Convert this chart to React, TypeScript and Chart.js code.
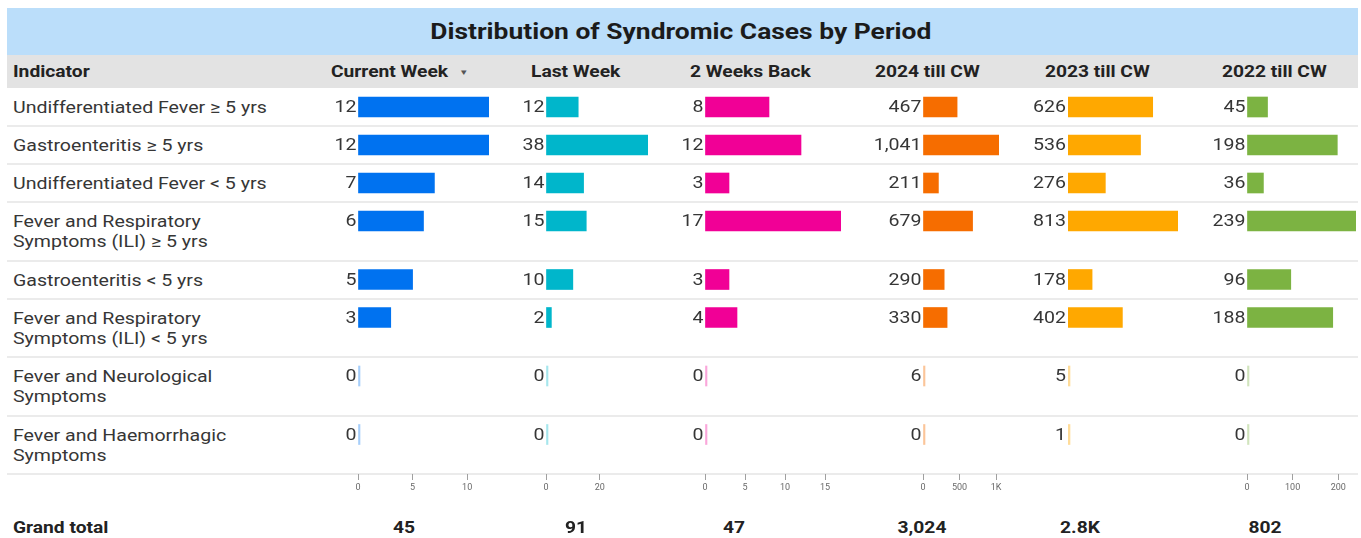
import React, { useEffect, useRef } from 'react';
import { Chart, registerables } from 'chart.js';

Chart.register(...registerables);

// ---------- data ----------
const title = 'Distribution of Syndromic Cases by Period';
const indicatorHeader = 'Indicator';
const indicators: string[][] = [
  ['Undifferentiated Fever ≥ 5 yrs'],
  ['Gastroenteritis ≥ 5 yrs'],
  ['Undifferentiated Fever < 5 yrs'],
  ['Fever and Respiratory', 'Symptoms (ILI) ≥ 5 yrs'],
  ['Gastroenteritis < 5 yrs'],
  ['Fever and Respiratory', 'Symptoms (ILI) < 5 yrs'],
  ['Fever and Neurological', 'Symptoms'],
  ['Fever and Haemorrhagic', 'Symptoms'],
];
const periods = ['Current Week', 'Last Week', '2 Weeks Back', '2024 till CW', '2023 till CW', '2022 till CW'];
const currentWeek = [12, 12, 7, 6, 5, 3, 0, 0];
const lastWeek = [12, 38, 14, 15, 10, 2, 0, 0];
const twoWeeksBack = [8, 12, 3, 17, 3, 4, 0, 0];
const till2024 = [467, 1041, 211, 679, 290, 330, 6, 0];
const till2023 = [626, 536, 276, 813, 178, 402, 5, 1];
const till2022 = [45, 198, 36, 239, 96, 188, 0, 0];
const ticksCurrentWeek = [0, 5, 10];
const ticksLastWeek = [0, 20];
const ticksTwoWeeksBack = [0, 5, 10, 15];
const ticks2024 = [0, 500, 1000];
const ticks2023: number[] = [];
const ticks2022 = [0, 100, 200];
const grandTotalLabel = 'Grand total';

// ---------- styling / layout ----------
const FONT = 'Roboto, "Noto Sans", sans-serif';
const TEXT = '#363636';
const STRETCH = 1.2;
const colors = ['#0072f0', '#00b6cb', '#f10096', '#f66d00', '#ffa800', '#7cb342'];
const lightColors = ['rgba(0,114,240,0.35)', 'rgba(0,182,203,0.35)', 'rgba(241,0,150,0.35)', 'rgba(246,109,0,0.4)', 'rgba(255,168,0,0.4)', 'rgba(124,179,66,0.35)'];
const seriesList = [currentWeek, lastWeek, twoWeeksBack, till2024, till2023, till2022];
const tickList = [ticksCurrentWeek, ticksLastWeek, ticksTwoWeeksBack, ticks2024, ticks2023, ticks2022];
const zeroX = [358, 546, 705, 923, 1068, 1247];
const barWidths = [131, 102, 136, 76, 110, 109];
const headerX = [331, 531, 690, 875, 1045, 1222];
const totalX = [404, 576, 734, 922, 1080, 1265];
const totalStyle = ['comma', 'comma', 'comma', 'comma', 'compact', 'comma'];

const LEFT = 7;
const WIDTH = 1351;
const ROWS_TOP = 88;
const rowHeights = indicators.map((l) => (l.length === 1 ? 38 : 58.5));
const rowTops: number[] = [];
rowHeights.reduce((acc, h) => {
  rowTops.push(acc);
  return acc + h;
}, 0);
const rowsHeight = rowHeights.reduce((a, b) => a + b, 0);
const barCenters = rowTops.map((t) => t + 19);
const AXIS_H = 28;
const PAD_L = 56;
const PAD_R = 12;

const fmtComma = (v: number) => v.toLocaleString('en-US');
const fmtTick = (v: number) => (v >= 1000 ? v / 1000 + 'K' : String(v));
const fmtTotal = (v: number, style: string) =>
  style === 'compact' ? (v >= 1000 ? (v / 1000).toFixed(1) + 'K' : String(v)) : fmtComma(v);

function makeLabelPlugin(values: number[]) {
  return {
    id: 'valueLabels',
    afterDatasetsDraw(chart: any) {
      const { ctx } = chart;
      const meta = chart.getDatasetMeta(0);
      ctx.save();
      ctx.font = `17px ${FONT}`;
      ctx.fillStyle = TEXT;
      ctx.textAlign = 'right';
      ctx.textBaseline = 'middle';
      meta.data.forEach((el: any, i: number) => {
        const p = el.getProps(['base', 'y'], true);
        ctx.save();
        ctx.translate(p.base - 2, p.y + 1);
        ctx.scale(1.15, 1);
        ctx.fillText(fmtComma(values[i]), 0, 0);
        ctx.restore();
      });
      ctx.restore();
    },
  };
}

function BarColumn({ idx }: { idx: number }) {
  const ref = useRef<HTMLCanvasElement>(null);
  const values = seriesList[idx];
  const tickVals = tickList[idx];
  const w = PAD_L + barWidths[idx] + PAD_R;
  const h = rowsHeight + AXIS_H;
  useEffect(() => {
    const hasTicks = tickVals.length > 0;
    const maxVal = Math.max(...values);
    const chart = new Chart(ref.current as HTMLCanvasElement, {
      type: 'bar',
      data: {
        datasets: [
          {
            label: periods[idx],
            data: values.map((v, i) => ({ x: v, y: barCenters[i] })),
            backgroundColor: (c: any) =>
              c.raw && (c.raw.x / maxVal) * barWidths[idx] < 1.5 ? lightColors[idx] : colors[idx],
            barThickness: 20,
            minBarLength: 2,
            borderWidth: 0,
          },
        ],
      },
      options: {
        indexAxis: 'y',
        responsive: false,
        animation: false,
        devicePixelRatio: 1,
        layout: { padding: { left: PAD_L, right: PAD_R, top: 0, bottom: 0 } },
        plugins: { legend: { display: false }, tooltip: { enabled: false }, title: { display: false } },
        scales: {
          y: {
            type: 'linear',
            min: 0,
            max: rowsHeight,
            reverse: true,
            offset: false,
            grace: 0,
            display: false,
            grid: { offset: false },
          },
          x: {
            type: 'linear',
            position: 'bottom',
            min: 0,
            max: maxVal,
            offset: false,
            border: { display: false },
            grid: {
              display: hasTicks,
              drawOnChartArea: false,
              drawTicks: true,
              tickLength: 6,
              color: '#a0a0a0',
              lineWidth: 1,
            },
            ticks: {
              display: hasTicks,
              autoSkip: false,
              maxRotation: 0,
              padding: 2,
              color: '#6a6a6a',
              font: { size: 9, family: FONT },
              callback: (v: any) => fmtTick(Number(v)),
            },
            afterBuildTicks: (s: any) => {
              if (hasTicks) s.ticks = tickVals.map((v) => ({ value: v }));
            },
            afterFit: (s: any) => {
              s.height = AXIS_H;
            },
          },
        },
      } as any,
      plugins: [makeLabelPlugin(values)],
    });
    return () => chart.destroy();
  }, []);
  return (
    <canvas
      ref={ref}
      width={w}
      height={h}
      style={{ position: 'absolute', left: zeroX[idx] - PAD_L, top: ROWS_TOP, width: w, height: h, display: 'block' }}
    />
  );
}

export default function App() {
  const text: React.CSSProperties = {
    position: 'absolute',
    fontFamily: FONT,
    whiteSpace: 'nowrap',
    transform: `scaleX(${STRETCH})`,
    transformOrigin: 'left center',
  };
  const bold: React.CSSProperties = { fontSize: 16, fontWeight: 700, color: '#222' };
  return (
    <div style={{ position: 'absolute', left: 0, top: 0, width: 1361, height: 538, background: '#fff', overflow: 'hidden' }}>
      <div style={{ position: 'absolute', left: LEFT, top: 8, width: WIDTH, height: 47, background: '#bbdefa' }} />
      <div
        style={{
          ...text,
          left: LEFT,
          width: WIDTH,
          top: 8,
          height: 47,
          lineHeight: '47px',
          textAlign: 'center',
          fontSize: 22,
          fontWeight: 700,
          color: '#1b1b1b',
          transformOrigin: '684px center',
        }}
      >
        {title}
      </div>
      <div style={{ position: 'absolute', left: LEFT, top: 55, width: WIDTH, height: 33, background: '#e3e3e3' }} />
      <div style={{ ...text, ...bold, left: 13, top: 55, lineHeight: '33px' }}>{indicatorHeader}</div>
      {periods.map((p, i) => (
        <div key={p} style={{ ...text, ...bold, left: headerX[i], top: 55, lineHeight: '33px' }}>
          {p}
          {i === 0 ? <span style={{ fontSize: 8, marginLeft: 9, color: '#555', position: 'relative', top: -2 }}>▼</span> : null}
        </div>
      ))}
      {rowTops.map((t, i) => (
        <div
          key={'sep' + i}
          style={{ position: 'absolute', left: LEFT, top: ROWS_TOP + t + rowHeights[i] - 1, width: WIDTH, height: 2, background: '#ebebeb' }}
        />
      ))}
      {indicators.map((lines, i) => (
        <div
          key={'lab' + i}
          style={{
            ...text,
            left: 13,
            top: ROWS_TOP + rowTops[i] + 9,
            lineHeight: '20px',
            fontSize: 17,
            color: TEXT,
            transform: 'scaleX(1.15)',
          }}
        >
          {lines.map((l, j) => (
            <div key={j}>{l}</div>
          ))}
        </div>
      ))}
      {seriesList.map((_, i) => (
        <BarColumn key={'col' + i} idx={i} />
      ))}
      <div style={{ ...text, ...bold, left: 13, top: 517, lineHeight: '22px' }}>{grandTotalLabel}</div>
      {seriesList.map((s, i) => (
        <div
          key={'tot' + i}
          style={{
            ...text,
            ...bold,
            left: totalX[i] - 50,
            width: 100,
            textAlign: 'center',
            top: 517,
            lineHeight: '22px',
            transformOrigin: 'center center',
          }}
        >
          {fmtTotal(
            s.reduce((a, b) => a + b, 0),
            totalStyle[i]
          )}
        </div>
      ))}
    </div>
  );
}
